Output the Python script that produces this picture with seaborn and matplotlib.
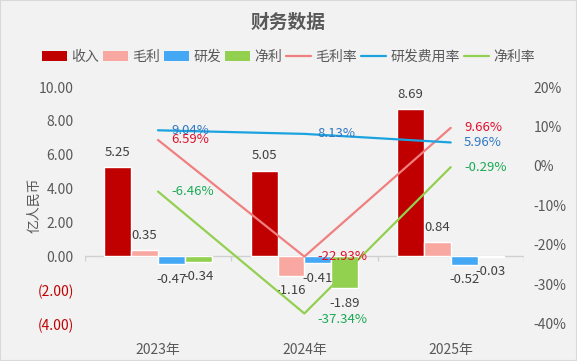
import numpy as np
import pandas as pd
import matplotlib
matplotlib.use("Agg")
import matplotlib.pyplot as plt
import seaborn as sns
from matplotlib.patches import Patch, Rectangle
from matplotlib.lines import Line2D

# ---- data ----
years = ['2023年', '2024年', '2025年']
bar_names = ['收入', '毛利', '研发', '净利']
revenue = [5.25, 5.05, 8.69]
gross_profit = [0.35, -1.16, 0.84]
rnd = [-0.47, -0.41, -0.52]
net_profit = [-0.34, -1.89, -0.03]
line_names = ['毛利率', '研发费用率', '净利率']
gross_margin = [6.59, -22.93, 9.66]
rnd_rate = [9.04, 8.13, 5.96]
net_margin = [-6.46, -37.34, -0.29]
left_ticks = [10, 8, 6, 4, 2, 0, -2, -4]
right_ticks = [20, 10, 0, -10, -20, -30, -40]

bar_colors = ['#C00000', '#F8A8A0', '#45A8F5', '#92D050']
line_colors = ['#F08080', '#1BA3E0', '#92D050']
label_colors = ['#E0102B', '#2F78C4', '#1AAA55']

sns.set_theme(style='white')
plt.rcParams['font.family'] = ['Noto Sans CJK SC', 'DejaVu Sans']
plt.rcParams['axes.unicode_minus'] = False

bg = '#F2F2F2'
fig = plt.figure(figsize=(5.77, 3.61), dpi=100, facecolor=bg)
ax = fig.add_axes([0.147, 0.1025, 0.908 - 0.147, 0.759 - 0.1025])
ax.set_facecolor(bg)

df_bar = pd.DataFrame({
    'year': np.repeat(years, 4),
    'metric': bar_names * 3,
    'value': [v for trip in zip(revenue, gross_profit, rnd, net_profit) for v in trip],
})
sns.barplot(data=df_bar, x='year', y='value', hue='metric', hue_order=bar_names,
            palette=bar_colors, width=0.733, saturation=1, legend=False, ax=ax,
            errorbar=None)

ax.set_ylim(-4, 10)
ax.set_xlim(-0.5, 2.5)
for c in ax.containers:
    labels = [f'{v:.2f}' for v in c.datavalues]
    ax.bar_label(c, labels=labels, padding=6, fontsize=9.5, color='#404040')

# zero line with category boundary ticks
ax.axhline(0, color='#D0D0D0', lw=1, zorder=0.5)
ax.vlines(np.arange(len(years) + 1) - 0.5, 0, -0.28, color='#D0D0D0', lw=1, zorder=0.5)

for s in ax.spines.values():
    s.set_visible(False)
ax.set_yticks(left_ticks)
ax.set_yticklabels([f'{t:.2f}' if t >= 0 else f'({abs(t):.2f})' for t in left_ticks])
for t, lab in zip(left_ticks, ax.get_yticklabels()):
    lab.set_color('#C00000' if t < 0 else '#595959')
ax.tick_params(axis='y', length=0, pad=8, labelsize=10)
ax.tick_params(axis='x', length=0, pad=14, labelsize=10, labelcolor='#595959')
ax.set_xlabel('')
ax.set_ylabel('亿人民币', fontsize=10, color='#595959', labelpad=8)
ax.yaxis.set_label_coords(-0.098, 0.5)

# ---- lines ----
ax2 = ax.twinx()
ax2.patch.set_visible(False)
pos = np.arange(len(years))
for vals, col, lcol in zip([gross_margin, rnd_rate, net_margin], line_colors, label_colors):
    sns.lineplot(x=pos, y=vals, color=col, lw=1.6, ax=ax2, legend=False)
    for x, v in zip(pos, vals):
        dy = -4 if v < -35 else 0
        ax2.annotate(f'{v:.2f}%', (x, v), xytext=(9.5, dy), textcoords='offset points',
                     ha='left', va='center', fontsize=9.5, color=lcol)
ax2.set_ylim(-40, 20)
ax2.set_xlim(-0.5, 2.5)
ax2.set_yticks(right_ticks)
ax2.set_yticklabels([f'{t}%' for t in right_ticks])
ax2.tick_params(axis='y', length=0, pad=7, labelsize=10, labelcolor='#595959')
for s in ax2.spines.values():
    s.set_visible(False)

# ---- title & legend ----
fig.text(0.5, 0.937, '财务数据', ha='center', va='center', fontsize=13.5,
         fontweight='bold', color='#595959')
handles = [Patch(facecolor=c, edgecolor='none') for c in bar_colors] + \
          [Line2D([0], [0], color=c, lw=1.6) for c in line_colors]
fig.legend(handles, bar_names + line_names, loc='center', bbox_to_anchor=(0.5, 0.842),
           ncol=7, frameon=False, fontsize=10, handlelength=1.8, handleheight=0.7,
           handletextpad=0.3, columnspacing=0.3, labelcolor='#595959')

fig.patches.append(Rectangle((0, 0), 1, 1, transform=fig.transFigure, fill=False,
                             edgecolor='#D9D9D9', lw=1.5))

fig.savefig('out.png', dpi=100, facecolor=bg)
